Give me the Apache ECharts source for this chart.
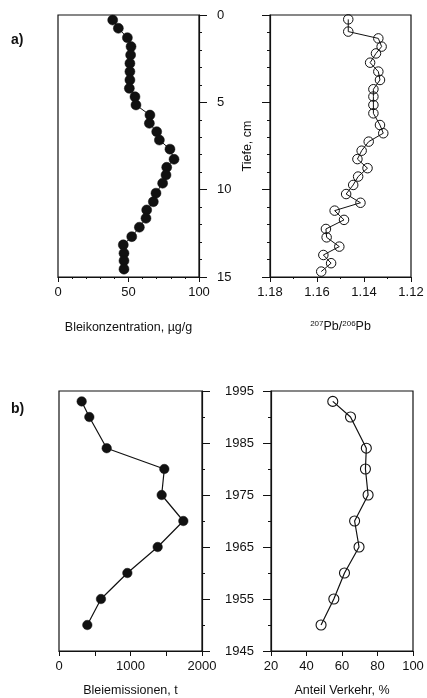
<!DOCTYPE html>
<html>
<head>
<meta charset="utf-8">
<script src="https://cdn.jsdelivr.net/npm/echarts@6/dist/echarts.min.js"></script>
<style>
html,body{margin:0;padding:0;background:#fff;}
#c{width:427px;height:698px;}
</style>
</head>
<body>
<div id="c"></div>
<script>
// ---- data ----
const depthConc = [0.29, 0.76, 1.3, 1.81, 2.29, 2.77, 3.24, 3.72, 4.2, 4.68, 5.15, 5.73, 6.2, 6.68, 7.16, 7.68, 8.26, 8.72, 9.16, 9.63, 10.2, 10.69, 11.16, 11.64, 12.15, 12.69, 13.16, 13.64, 14.07, 14.55];
const bleiKonz = [38.8, 42.8, 49.2, 51.8, 51.5, 51, 51, 51, 50.6, 54.6, 55.3, 65.2, 64.8, 70, 71.9, 79.4, 82.3, 77.1, 76.6, 74.2, 69.5, 67.6, 62.9, 62.4, 57.7, 52.3, 46.3, 46.8, 46.8, 46.8];

const depthRatio = [0.25, 0.95, 1.34, 1.81, 2.2, 2.73, 3.24, 3.72, 4.25, 4.67, 5.15, 5.63, 6.3, 6.77, 7.25, 7.77, 8.25, 8.77, 9.25, 9.73, 10.25, 10.75, 11.2, 11.73, 12.25, 12.73, 13.26, 13.74, 14.21, 14.69];
const pbRatio = [1.1467, 1.1467, 1.1339, 1.1325, 1.1349, 1.1374, 1.1339, 1.1332, 1.1360, 1.1360, 1.1360, 1.1360, 1.1332, 1.1318, 1.1380, 1.1410, 1.1428, 1.1385, 1.1425, 1.1446, 1.1476, 1.1415, 1.1525, 1.1485, 1.1562, 1.1559, 1.1505, 1.1573, 1.1540, 1.1582];

const years = [1993, 1990, 1984, 1980, 1975, 1970, 1965, 1960, 1955, 1950];
const emission = [317, 424, 667, 1473, 1436, 1739, 1380, 956, 587, 396];
const verkehr = [54.8, 64.8, 73.7, 73.2, 74.7, 67.1, 69.6, 61.4, 55.4, 48.2];

// tick labels
const depthTicks = [0, 5, 10, 15];
const konzTicks = [0, 50, 100];
const ratioTicks = [1.12, 1.14, 1.16, 1.18];
const yearTicks = [1945, 1955, 1965, 1975, 1985, 1995];
const emTicks = [0, 1000, 2000];
const vkTicks = [20, 40, 60, 80, 100];

// ---- chart ----
const FONT = 'Liberation Sans, Arial, Helvetica, sans-serif';
const BLACK = '#111';
const chart = echarts.init(document.getElementById('c'), null, {renderer: 'canvas'});

function zip(a, b) { return a.map((v, i) => [v, b[i]]); }
const first = a => a[0];
const last = a => a[a.length - 1];
const step = a => a[1] - a[0];
const plain = v => String(v);

const labelStyle = {color: BLACK, fontFamily: FONT, fontSize: 13, formatter: plain};
const lineAx = {show: true, onZero: false, lineStyle: {color: BLACK, width: 1.2}};

function xAx(grid, ticks, opts) {
  return Object.assign({
    type: 'value', gridIndex: grid, position: 'bottom',
    min: first(ticks), max: last(ticks), interval: step(ticks),
    axisLine: lineAx,
    axisTick: {show: true, inside: false, length: 5, lineStyle: {color: BLACK, width: 1}},
    minorTick: {show: true, splitNumber: 5, length: 2, lineStyle: {color: BLACK, width: 1}},
    splitLine: {show: false}, minorSplitLine: {show: false},
    axisLabel: Object.assign({margin: 9, showMinLabel: true, showMaxLabel: true}, labelStyle),
    nameLocation: 'middle',
    nameTextStyle: {color: BLACK, fontFamily: FONT, fontSize: 12.5}
  }, opts);
}
function yAx(grid, ticks, pos, opts) {
  return Object.assign({
    type: 'value', gridIndex: grid, position: pos,
    min: first(ticks), max: last(ticks), interval: step(ticks),
    axisLine: lineAx,
    axisTick: {show: true, inside: false, length: 8, lineStyle: {color: BLACK, width: 1}},
    minorTick: {show: true, splitNumber: 5, length: 3, lineStyle: {color: BLACK, width: 1}},
    splitLine: {show: false}, minorSplitLine: {show: false},
    axisLabel: Object.assign({show: false, showMinLabel: true, showMaxLabel: true}, labelStyle)
  }, opts);
}

const gridBox = {show: true, borderColor: BLACK, borderWidth: 1.2, backgroundColor: 'transparent', containLabel: false};

const option = {
  animation: false,
  backgroundColor: '#fff',
  textStyle: {fontFamily: FONT},
  graphic: [
    {type: 'text', left: 11, top: 33, style: {text: 'a)', font: 'bold 14px ' + FONT, fill: BLACK}},
    {type: 'text', left: 11, top: 402, style: {text: 'b)', font: 'bold 14px ' + FONT, fill: BLACK}}
  ],
  grid: [
    Object.assign({left: 58, top: 15, width: 141, height: 262}, gridBox),
    Object.assign({left: 270, top: 15, width: 141, height: 262}, gridBox),
    Object.assign({left: 59, top: 391, width: 143, height: 260}, gridBox),
    Object.assign({left: 271, top: 391, width: 142, height: 260}, gridBox)
  ],
  xAxis: [
    xAx(0, konzTicks, {name: 'Bleikonzentration, µg/g', nameGap: 44}),
    xAx(1, ratioTicks, {
      inverse: true,
      minorTick: {show: true, splitNumber: 2, length: 2, lineStyle: {color: BLACK, width: 1}},
      axisLabel: Object.assign({}, labelStyle, {margin: 9, formatter: v => v.toFixed(2)}),
      name: '{s|207}{n|Pb/}{s|206}{n|Pb}', nameGap: 43,
      nameTextStyle: {color: BLACK, fontFamily: FONT, fontSize: 12.5, rich: {
        s: {fontSize: 8, fontFamily: FONT, color: BLACK, verticalAlign: 'top', padding: [0, 0, 6, 0]},
        n: {fontSize: 12.5, fontFamily: FONT, color: BLACK}
      }}
    }),
    xAx(2, emTicks, {
      minorTick: {show: true, splitNumber: 2, length: 5, lineStyle: {color: BLACK, width: 1}},
      name: 'Bleiemissionen, t', nameGap: 33
    }),
    xAx(3, vkTicks, {
      minorTick: {show: false},
      name: 'Anteil Verkehr, %', nameGap: 33
    })
  ],
  yAxis: [
    yAx(0, depthTicks, 'right', {
      inverse: true,
      axisLabel: Object.assign({show: true, margin: 18, align: 'left'}, labelStyle),
      name: 'Tiefe, cm', nameLocation: 'middle', nameRotate: 90, nameGap: 42,
      nameTextStyle: {color: BLACK, fontFamily: FONT, fontSize: 12.5}
    }),
    yAx(1, depthTicks, 'left', {inverse: true}),
    yAx(2, yearTicks, 'right', {
      minorTick: {show: true, splitNumber: 2, length: 3, lineStyle: {color: BLACK, width: 1}}
    }),
    yAx(3, yearTicks, 'left', {
      minorTick: {show: true, splitNumber: 2, length: 3, lineStyle: {color: BLACK, width: 1}},
      axisLabel: Object.assign({show: true, margin: 17, align: 'right'}, labelStyle)
    })
  ],
  series: [
    {
      type: 'line', xAxisIndex: 0, yAxisIndex: 0, data: zip(bleiKonz, depthConc),
      symbol: 'circle', symbolSize: 10,
      itemStyle: {color: BLACK, borderColor: BLACK, borderWidth: 0.5},
      lineStyle: {color: BLACK, width: 1}
    },
    {
      type: 'line', xAxisIndex: 1, yAxisIndex: 1, data: zip(pbRatio, depthRatio),
      symbol: 'circle', symbolSize: 9.5,
      itemStyle: {color: 'rgba(255,255,255,0)', borderColor: BLACK, borderWidth: 1},
      lineStyle: {color: BLACK, width: 1}
    },
    {
      type: 'line', xAxisIndex: 2, yAxisIndex: 2, data: zip(emission, years),
      symbol: 'circle', symbolSize: 9.5,
      itemStyle: {color: BLACK, borderColor: BLACK, borderWidth: 0.5},
      lineStyle: {color: BLACK, width: 1.2}
    },
    {
      type: 'line', xAxisIndex: 3, yAxisIndex: 3, data: zip(verkehr, years),
      symbol: 'circle', symbolSize: 10,
      itemStyle: {color: 'rgba(255,255,255,0)', borderColor: BLACK, borderWidth: 1.1},
      lineStyle: {color: BLACK, width: 1.2}
    }
  ]
};
chart.setOption(option);
</script>
</body>
</html>
